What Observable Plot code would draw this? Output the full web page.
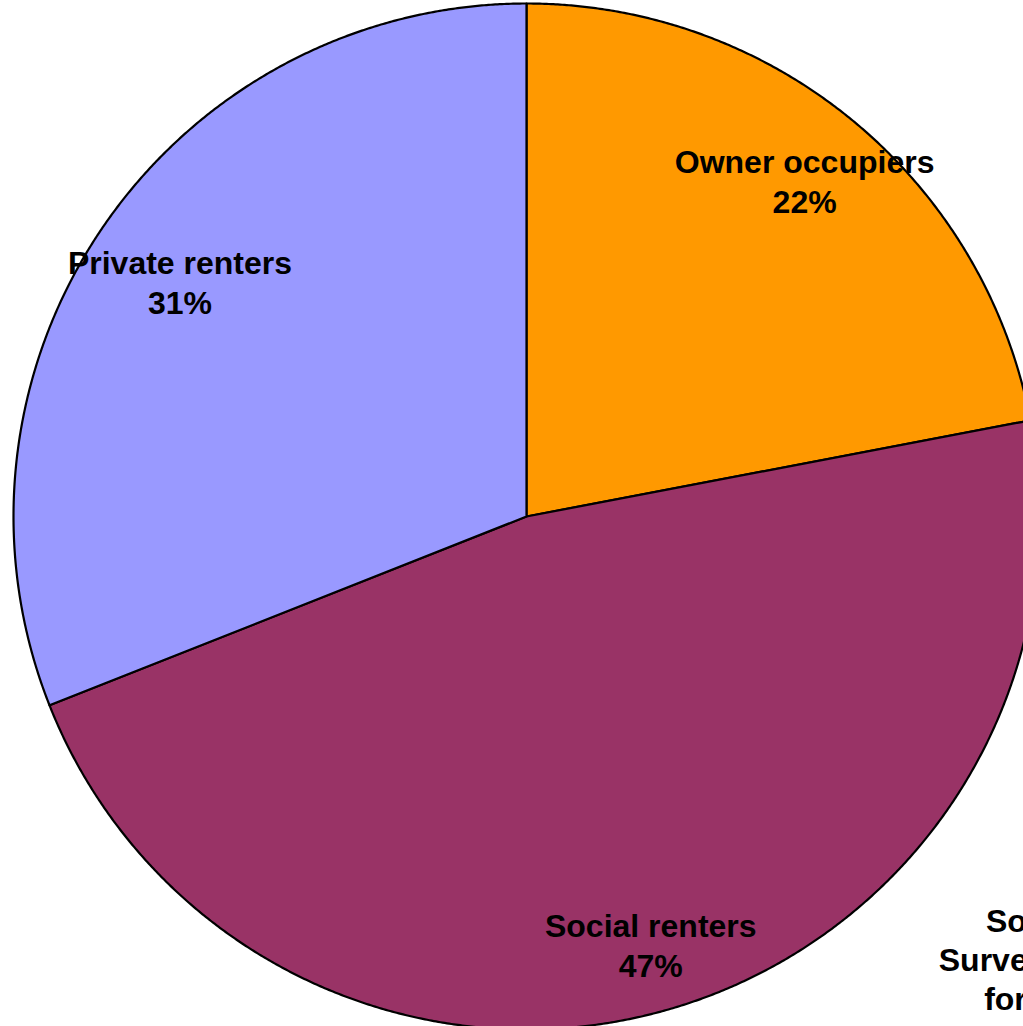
<!DOCTYPE html>
<html><head><meta charset="utf-8">
<script src="https://cdn.jsdelivr.net/npm/d3@7"></script>
<script src="https://cdn.jsdelivr.net/npm/@observablehq/plot@0.6"></script>
<style>html,body{margin:0;padding:0;background:#fff;overflow:hidden}</style>
</head><body><div id="chart"></div>
<script>
const categories = ["Owner occupiers", "Social renters", "Private renters"];
const shares = [22, 47, 31];
const colors = ["#FF9900", "#993366", "#9999FF"];
const sourceLines = ["Source:", "Survey 2005/6", "for 2006"];

const W = 1023, H = 1026, cx = 526, cy = 516, R = 513;
const FONT = "'Liberation Sans', Arial, sans-serif";
const FS = 32;

const total = d3.sum(shares);
const slices = [];
let acc = 0;
categories.forEach((c, i) => {
  const a0 = acc / total * 2 * Math.PI;
  acc += shares[i];
  const a1 = acc / total * 2 * Math.PI;
  slices.push({c, v: shares[i], a0, a1});
});

const pts = [];
for (const s of slices) {
  pts.push({c: s.c, x: 0, y: 0});
  const n = Math.ceil((s.a1 - s.a0) / (Math.PI / 720));
  for (let k = 0; k <= n; k++) {
    const a = s.a0 + (s.a1 - s.a0) * k / n;
    pts.push({c: s.c, x: Math.sin(a), y: Math.cos(a)});
  }
  pts.push({c: s.c, x: 0, y: 0});
}

const ctx = document.createElement("canvas").getContext("2d");
ctx.font = `bold ${FS}px ${FONT}`;
const halfH = 36;
const labels = slices.map(s => {
  const mid = (s.a0 + s.a1) / 2;
  const dx = Math.sin(mid), dy = Math.cos(mid);
  const hw = Math.max(ctx.measureText(s.c).width, ctx.measureText(s.v + "%").width) / 2;
  const t = Math.min(Math.abs(dx) > 1e-6 ? hw / Math.abs(dx) : Infinity, Math.abs(dy) > 1e-6 ? halfH / Math.abs(dy) : Infinity);
  const d = (R - 30 - t) / R;
  return {x: dx * d, y: dy * d, text: s.c + "\n" + s.v + "%"};
});

const source = [{x: (1045 - cx) / R, y: (cy - 958) / R, text: sourceLines.join("\n")}];

const chart = Plot.plot({
  width: W, height: H, margin: 0,
  style: {overflow: "hidden", background: "white"},
  x: {domain: [-cx / R, (W - cx) / R], range: [0, W], axis: null},
  y: {domain: [-(H - cy) / R, cy / R], range: [H, 0], axis: null},
  color: {domain: categories, range: colors},
  marks: [
    Plot.line(pts, {x: "x", y: "y", z: "c", fill: "c", stroke: "black", strokeWidth: 2.2, strokeLinejoin: "round"}),
    Plot.text(labels, {x: "x", y: "y", text: "text", fontSize: FS, fontWeight: "bold", fontFamily: FONT, lineHeight: 1.25, lineAnchor: "middle", fill: "black"}),
    Plot.text(source, {x: "x", y: "y", text: "text", fontSize: FS, fontWeight: "bold", fontFamily: FONT, lineHeight: 1.22, lineAnchor: "middle", textAnchor: "middle", fill: "black"})
  ]
});
document.getElementById("chart").appendChild(chart);
</script>
</body></html>
